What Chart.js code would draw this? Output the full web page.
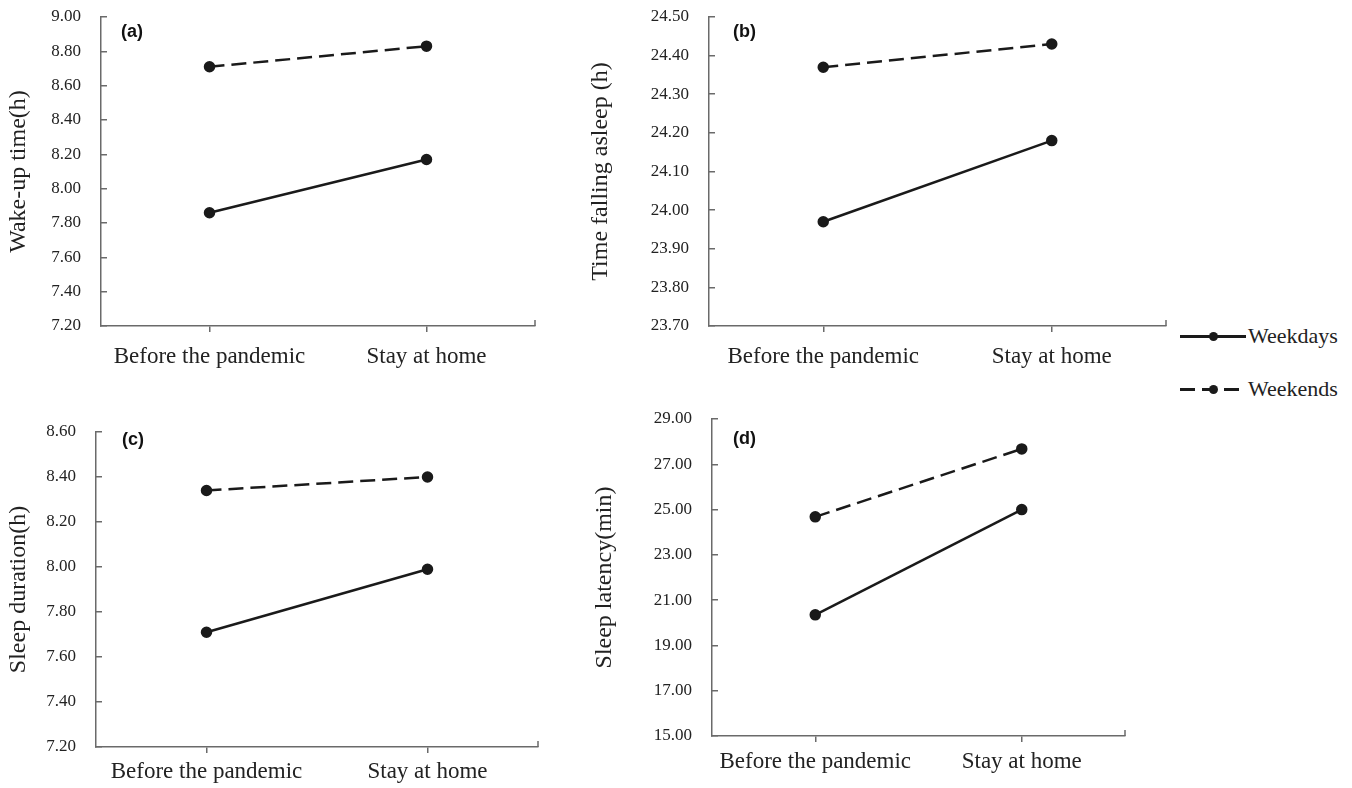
<!DOCTYPE html>
<html>
<head>
<meta charset="utf-8">
<script src="https://cdn.jsdelivr.net/npm/chart.js@4/dist/chart.umd.min.js"></script>
<style>
  body { margin: 0; background: #fff; width: 1352px; height: 788px; position: relative; overflow: hidden; }
  .panel { position: absolute; }
  .legend { position: absolute; left: 1180px; font-family: 'Liberation Serif', serif; font-size: 22px; color: #222; }
  .legend .row { position: absolute; left: 0; width: 172px; height: 26px; }
  .legend .sym { position: absolute; left: 0; top: 12px; width: 66px; height: 3px; }
  .legend .dot { position: absolute; left: 29px; top: 8.5px; width: 9px; height: 9px; border-radius: 50%; background: #1a1a1a; }
  .legend .txt { position: absolute; left: 68px; top: 0; line-height: 26px; }
</style>
</head>
<body>
<div class="panel" style="left:0;top:0"><canvas id="chartA" width="560" height="380"></canvas></div>
<div class="panel" style="left:582px;top:0"><canvas id="chartB" width="598" height="380"></canvas></div>
<div class="panel" style="left:0;top:400px"><canvas id="chartC" width="560" height="388"></canvas></div>
<div class="panel" style="left:586px;top:400px"><canvas id="chartD" width="560" height="388"></canvas></div>

<div class="legend">
  <div class="row" style="top:323px">
    <div class="sym" style="background:#1a1a1a"></div>
    <div class="dot"></div>
    <div class="txt">Weekdays</div>
  </div>
  <div class="row" style="top:376px">
    <div class="sym" style="background:repeating-linear-gradient(90deg,#1a1a1a 0 15px,transparent 15px 22px)"></div>
    <div class="dot"></div>
    <div class="txt">Weekends</div>
  </div>
</div>

<script>
const categories = ['Before the pandemic', 'Stay at home'];
const seriesNames = ['Weekdays', 'Weekends'];

// (a) wake-up time
const wakeWeekdays = [7.86, 8.17];
const wakeWeekends = [8.71, 8.83];
// (b) time falling asleep
const asleepWeekdays = [23.97, 24.18];
const asleepWeekends = [24.37, 24.43];
// (c) sleep duration
const durationWeekdays = [7.71, 7.99];
const durationWeekends = [8.34, 8.40];
// (d) sleep latency
const latencyWeekdays = [20.35, 25.00];
const latencyWeekends = [24.68, 27.68];

const axisColor = '#6a6a6a';
const inkColor = '#1a1a1a';
const serif = "'Liberation Serif', 'Times New Roman', serif";

// draws the (a)/(b)... tag and the small tick at the right end of the x axis
const panelExtras = {
    id: 'panelExtras',
    afterDraw(chart, args, opts) {
        const { ctx, chartArea } = chart;
        ctx.save();
        ctx.strokeStyle = axisColor;
        ctx.lineWidth = 1.5;
        ctx.beginPath();
        ctx.moveTo(chartArea.right, chartArea.bottom);
        ctx.lineTo(chartArea.right, chartArea.bottom - 6);
        ctx.stroke();
        ctx.fillStyle = '#111';
        ctx.font = "bold 18px 'Liberation Sans', Arial, sans-serif";
        ctx.textBaseline = 'middle';
        ctx.fillText(opts.text, chartArea.left + opts.dx, chartArea.top + opts.dy);
        ctx.restore();
    }
};

function makePanel(id, cfg) {
    const ctx = document.getElementById(id);
    return new Chart(ctx, {
        type: 'line',
        data: {
            labels: categories,
            datasets: [
                {
                    label: seriesNames[0],
                    data: cfg.weekdays,
                    borderColor: inkColor,
                    backgroundColor: inkColor,
                    borderWidth: 2.5,
                    pointRadius: 4.5,
                    pointHoverRadius: 4.5,
                },
                {
                    label: seriesNames[1],
                    data: cfg.weekends,
                    borderColor: inkColor,
                    backgroundColor: inkColor,
                    borderWidth: 2.5,
                    borderDash: [15, 7],
                    pointRadius: 4.5,
                    pointHoverRadius: 4.5,
                }
            ]
        },
        options: {
            responsive: false,
            animation: false,
            layout: {
                padding: { top: cfg.padTop, right: cfg.padRight, left: 0, bottom: 0 }
            },
            plugins: {
                legend: { display: false },
                tooltip: { enabled: false },
                panelExtras: { text: cfg.tag, dx: cfg.tagDx, dy: cfg.tagDy }
            },
            scales: {
                x: {
                    type: 'category',
                    offset: true,
                    afterFit: s => {
                        s.height = cfg.xHeight;
                        s.paddingLeft = 0;
                        s.paddingRight = 0;
                    },
                    grid: { offset: false, drawOnChartArea: false, tickLength: 6, color: axisColor, lineWidth: 1.5 },
                    border: { color: axisColor, width: 1.5 },
                    ticks: { color: '#222', padding: cfg.xPad, maxRotation: 0, font: { family: serif, size: 23 } }
                },
                y: {
                    min: cfg.min,
                    max: cfg.max,
                    afterFit: s => {
                        s.width = cfg.yWidth;
                        s.paddingTop = 0;
                        s.paddingBottom = 0;
                    },
                    afterBuildTicks: s => {
                        s.ticks = [];
                        for (let v = cfg.min; v <= cfg.max + 1e-9; v += cfg.step) {
                            s.ticks.push({ value: Math.round(v * 100) / 100 });
                        }
                    },
                    grid: { drawOnChartArea: false, tickLength: -6, color: axisColor, lineWidth: 1.5 },
                    border: { color: axisColor, width: 1.5 },
                    ticks: {
                        color: '#222',
                        padding: 26,
                        font: { family: serif, size: 17 },
                        callback: v => Number(v).toFixed(2)
                    },
                    title: {
                        display: true,
                        text: cfg.title,
                        color: '#222',
                        font: { family: serif, size: 24 },
                        padding: { top: 4, bottom: 0 }
                    }
                }
            }
        },
        plugins: [panelExtras]
    });
}

makePanel('chartA', {
    weekdays: wakeWeekdays, weekends: wakeWeekends,
    min: 7.2, max: 9.0, step: 0.2, title: 'Wake-up time(h)', tag: '(a)',
    yWidth: 101, xHeight: 54, padTop: 17, padRight: 25, xPad: 11, tagDx: 20, tagDy: 15
});
makePanel('chartB', {
    weekdays: asleepWeekdays, weekends: asleepWeekends,
    min: 23.7, max: 24.5, step: 0.1, title: 'Time falling asleep (h)', tag: '(b)',
    yWidth: 127, xHeight: 54, padTop: 17, padRight: 14, xPad: 11, tagDx: 24, tagDy: 15
});
makePanel('chartC', {
    weekdays: durationWeekdays, weekends: durationWeekends,
    min: 7.2, max: 8.6, step: 0.2, title: 'Sleep duration(h)', tag: '(c)',
    yWidth: 96, xHeight: 41, padTop: 32, padRight: 22, xPad: 5, tagDx: 26, tagDy: 8
});
makePanel('chartD', {
    weekdays: latencyWeekdays, weekends: latencyWeekends,
    min: 15, max: 29, step: 2, title: 'Sleep latency(min)', tag: '(d)',
    yWidth: 126, xHeight: 52, padTop: 19, padRight: 21, xPad: 6, tagDx: 21, tagDy: 20
});
</script>
</body>
</html>
